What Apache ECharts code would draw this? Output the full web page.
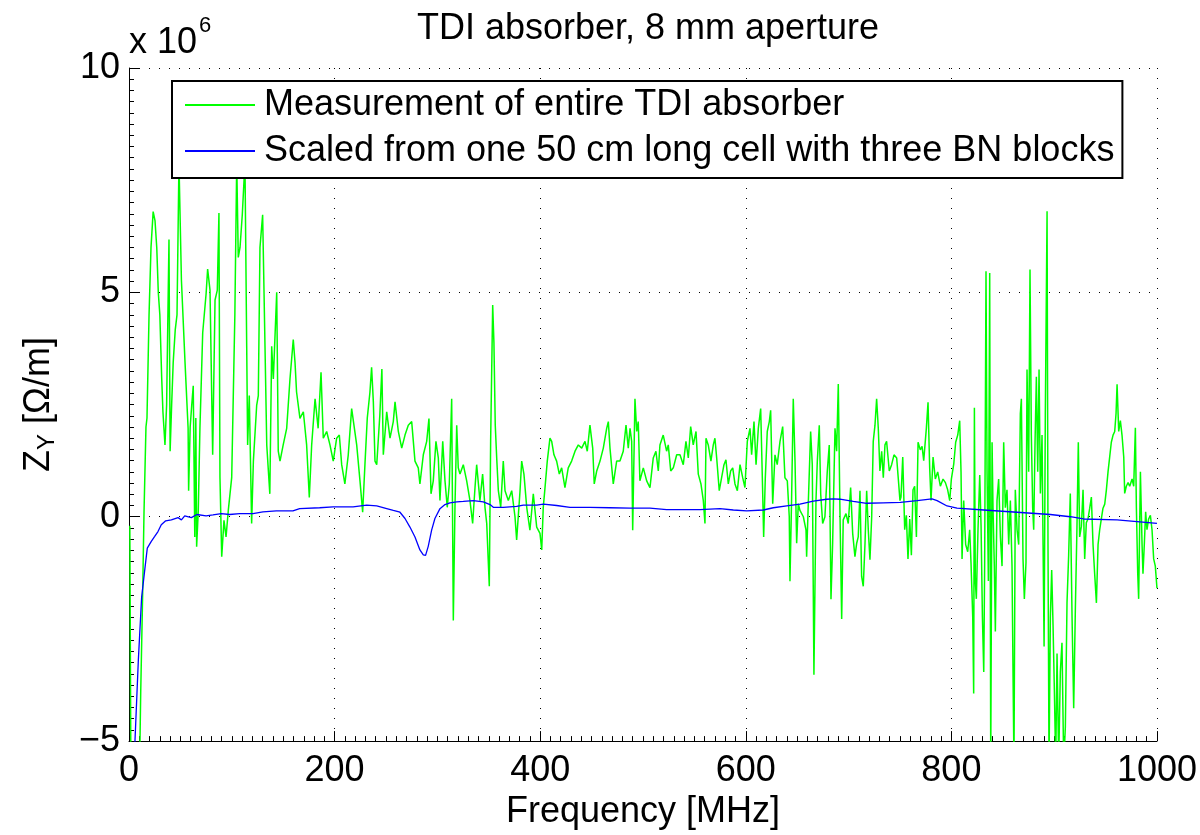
<!DOCTYPE html>
<html>
<head>
<meta charset="utf-8">
<title>TDI absorber, 8 mm aperture</title>
<script src="https://cdn.jsdelivr.net/npm/echarts@6/dist/echarts.min.js"></script>
<style>
  html, body { margin: 0; padding: 0; background: #fff; }
  #chart { width: 1200px; height: 835px; }
</style>
</head>
<body>
<div id="chart"></div>
<script>
// values, Z in units of 1e6 Ohm/m, frequency in MHz
const measFreq = [
  0.8, 1.8, 5, 9, 10.5, 11.4, 13.3, 14.6, 16.5, 17.5, 19.5, 21.4, 23.5, 25.3, 27, 28.5, 30, 31.8, 33, 35,
  36.6, 38.9, 40, 41.5, 43, 45, 46.7, 48.6, 51, 54.5, 57.5, 58, 59.5, 61, 62.5, 64, 65, 65.8, 67.4, 69,
  71.7, 75, 76.5, 78.8, 81.4, 83.7, 85.9, 87.5, 88.5, 90.2, 92.4, 94.4, 96.6, 99.9, 103, 104.8, 106.3, 108, 110.2, 112.8,
  114.5, 115.4, 117, 119.3, 121, 124.2, 125.8, 127.4, 130, 132.3, 134, 137, 138.8, 140.4, 143.7, 145.2, 146.9, 150, 153.4, 156.6,
  159.8, 161.5, 163, 166.3, 169.6, 172.8, 175.4, 177.7, 181, 184, 186.8, 189, 192.3, 195.5, 198.7, 202, 204.6, 206.9, 210, 213.3,
  216.6, 218, 221.5, 224.7, 227.3, 229.6, 231.8, 234.4, 236, 237.7, 239.3, 241, 244, 246, 247.4, 250.7, 253.9, 257.1, 258.8, 262,
  265.3, 268.5, 271.7, 275, 278.2, 281.4, 283, 286.3, 289.6, 291.8, 293.8, 296, 298.6, 300.9, 302.5, 305.2, 307.4, 309.6, 311.6, 313.9,
  315.5, 317.1, 318.8, 320.3, 322, 325.2, 328.5, 331.7, 334.3, 336.6, 338.2, 341.4, 344, 346.3, 348, 350.5, 351.8, 353.8, 355, 356.3,
  357.7, 359.3, 361.6, 364.1, 365.8, 369, 372.3, 375.5, 377.1, 380.4, 382, 384.2, 386.9, 390, 393.3, 396.6, 399.8, 401.5, 403, 404.7,
  406.9, 409.5, 411.2, 413.4, 416, 418.6, 420.9, 424.1, 427.3, 430.6, 433.9, 437.1, 440.4, 443.6, 445.8, 448.4, 451.1, 452.6, 455, 458.2,
  461.4, 464.7, 466.3, 467.9, 471.1, 474.4, 477.6, 480.8, 483.5, 485.7, 487.4, 489, 490, 492.2, 493.9, 495.4, 497, 500.3, 503.6, 506.8,
  510, 512.6, 514.9, 516.5, 519.7, 523, 524.6, 527, 529.5, 532.8, 536, 539.2, 541.8, 544.1, 546.4, 548.9, 551.6, 553.8, 556.4, 558.7,
  560.3, 561.3, 563.5, 566.1, 568.4, 570, 571.7, 574.2, 576.5, 578.8, 580.7, 583, 585.3, 587.3, 589.5, 591.8, 594.4, 597, 599.2, 601.5,
  604.1, 605.7, 608, 610, 612.2, 614.5, 616.4, 617.4, 619, 620.9, 622.9, 624.2, 626.2, 628.4, 630.6, 633.3, 635.9, 638.1, 640.4, 642.3,
  643, 644.6, 646.2, 647.9, 649.5, 651.1, 652.7, 656, 658.6, 659.2, 660.8, 663.1, 664.7, 666.3, 668.3, 669.6, 671.5, 672.9, 674.8, 677,
  679.3, 681.2, 682.9, 684.5, 686.8, 688.4, 690, 691.6, 693.3, 694.8, 697.5, 699.7, 702, 704, 706.2, 707.9, 709.4, 711.1, 712.7, 714.3,
  716, 717.6, 719.2, 720.8, 722.5, 724, 725.7, 727.3, 728.9, 730.5, 732.2, 733.8, 735.4, 737, 739.6, 741.9, 744.2, 746.8, 748.3, 750,
  751, 752.7, 754.6, 756.2, 757.8, 759.5, 761.1, 762.7, 764.3, 766, 767.6, 769.8, 771.5, 773.1, 775.7, 777.3, 778.9, 780.2, 782.2, 784.4,
  786.7, 789.3, 791.9, 794.2, 796.4, 798.4, 800, 802.3, 804.2, 806.2, 808.1, 809.4, 810.4, 812, 813.9, 815.9, 817.8, 819.1, 820.8, 821.7,
  822.4, 823.3, 824.3, 825.9, 827.6, 828.9, 830.2, 831.5, 832.4, 833.7, 834.7, 836, 837.3, 838.3, 839.6, 840.5, 841.8, 842.8, 844.4, 846,
  847.7, 849.3, 850.9, 852.5, 854.1, 855.8, 857.4, 859, 860, 860.9, 862.2, 863.9, 865.5, 867.1, 868.1, 869.7, 871, 872.6, 873.6, 875.2,
  876.5, 877.8, 879.1, 880.1, 881.4, 882.7, 884, 885.3, 886.6, 888.2, 889.2, 890.2, 891.4, 893.1, 894, 895, 896.3, 897.6, 898.9, 900.2,
  901.5, 902.8, 904.4, 906, 907.6, 909.3, 910.9, 912.5, 914.1, 915.7, 917.4, 919, 920.6, 922.2, 923.5, 924.8, 926.5, 928.1, 929.7, 931.3,
  932.9, 934.6, 936.2, 937.8, 939.4, 941.1, 942.7, 944.3, 945.9, 947.5, 949.2, 950.8, 952.4, 954, 955.6, 957.3, 958.9, 960.2, 961.2, 962.8,
  964.4, 966, 967.7, 968.6, 970.2, 971.9, 973.5, 975.8, 977.4, 979, 980, 981.3, 982.2, 983.9, 985.5, 986.4, 987.7, 989, 990.3, 991.9,
  993.6, 995.2, 996.8, 998.4, 1000
];
const measZ = [
  -0.2, -5.5, -8, -7, -5.3, -3.9, -1.7, 0.1, 2.0, 2.2, 4.5, 6.0, 6.8, 6.6, 6.0, 5.0, 4.5, 3.1, 2.34, 1.6,
  2.5, 6.18, 1.46, 2.5, 3.44, 4.17, 4.5, 7.9, 5.27, 3.44, 1.97, 0.58, 2.0, 2.48, 2.92, -0.45, 2.2, -0.67, 0.14, 1.97,
  4.1, 4.97, 5.52, 5.05, 1.38, 4.83, 5.05, 6.77, 0.87, -0.89, -0.08, -0.45, 0.14, 0.87, 4.53, 7.9, 5.78, 6.0, 6.73, 7.9,
  3.8, 1.6, 2.7, -0.15, 1.24, 2.48, 2.7, 6.0, 6.73, 3.8, 1.6, 0.51, 3.8, 3.07, 5.0, 1.46, 1.24, 1.6, 1.97, 3.07,
  3.95, 3.44, 2.78, 2.19, 2.34, 1.6, 0.43, 1.6, 2.63, 1.97, 3.22, 1.75, 1.9, 1.6, 1.24, 1.75, 1.82, 1.16, 0.73, 1.38,
  2.41, 2.41, 1.6, 0.8, 0.1, 1.2, 2.2, 2.78, 3.33, 2.56, 1.24, 1.16, 2.26, 3.29, 1.38, 2.34, 1.75, 2.12, 2.56, 1.9,
  1.53, 1.82, 2.04, 2.12, 1.24, 1.09, 0.73, 1.38, 1.68, 2.19, 0.51, 0.8, 1.68, 1.31, 0.36, 1.68, 0.8, 0.21, 0.73, 2.63,
  -2.31, 0.21, 2.04, 1.09, 0.95, 1.16, 0.8, 0.36, -0.15, 0.65, 1.16, 0.36, 0.95, 0.21, -0.15, -1.55, 1.68, 4.72, 3.88, 2.04,
  1.31, 0.58, 0.21, 1.24, 0.58, 0.36, 0.58, 0, -0.52, 0.58, 1.24, 0.95, 0.21, -0.3, 0.51, -0.23, -0.37, -0.74, 0.21, 0.65,
  1.24, 1.75, 1.68, 1.38, 1.24, 0.95, 1.09, 0.65, 1.09, 1.24, 1.46, 1.6, 1.53, 1.68, 1.46, 2.04, 1.53, 0.73, 1.02, 1.24,
  1.53, 1.97, 2.12, 1.53, 0.73, 1.24, 1.24, 1.46, 2.04, 1.53, 1.97, 1.68, -0.3, 2.63, 1.9, 2.12, 0.8, 1.09, 0.8, 0.65,
  1.31, 1.46, 1.02, 1.6, 1.82, 1.46, 1.6, 1.02, 1.09, 1.38, 1.38, 1.16, 1.68, 1.31, 2.01, 1.6, 1.9, 0.95, 0.73, 0.36,
  -0.15, 1.75, 1.6, 1.24, 1.6, 1.75, 1.31, 0.58, 0.87, 1.16, 1.27, 0.73, 1.02, 1.09, 0.73, 0.58, 1.16, 0.87, 0.65, 1.68,
  1.97, 1.38, 2.12, 1.16, 1.97, 2.41, 0.58, -0.45, 0.87, 1.9, 2.12, 2.37, 0.29, 1.38, 1.16, 1.68, 2.01, 0.87, 0.8, 0,
  -1.44, 0.43, 2.63, 1.24, -0.59, 0.29, 0.14, 0, -0.3, -0.89, 0.29, 1.9, 1.16, -3.52, 0.36, 1.24, 2.04, 0.5, -0.15, 0,
  1.02, 1.6, -1.84, -0.59, 1.97, 1.46, 2.96, 0.14, -2.28, -0.07, 0.07, -0.15, 0.65, -0.37, -0.89, -0.59, -0.45, 0.58, -1.33, -1.55,
  -0.59, 0.58, -0.3, -0.96, 0, 1.68, 2.04, 2.63, 1.97, 1.02, 1.46, 0.87, 1.6, 1.68, 1.02, 1.16, 1.38, 1.31, 0.87, 0.36,
  0.44, 1.33, -0.29, 0.03, -0.94, -0.05, -0.86, 0.6, 0.68, -0.45, 1.66, 1.49, 1.57, 1.25, 1.98, 2.55, 1.09, 0.36, 1.33, 0.84,
  1.0, 0.68, 0.84, 0.76, 0.6, 0.36, 0.84, 1.17, 1.66, 1.82, 2.14, 1.0, -0.94, 0.36, -0.62, -0.78, -0.29, -1.02, -2.24, -3.94,
  2.43, -1.43, -1.83, -0.29, 0.93, -0.21, -2.24, -3.46, -1.02, 5.47, 1.0, -1.43, 5.43, -5.5, 1.66, 0.2, -1.1, -2.56, 0.36, 0.84,
  -0.45, -1.1, 1.66, 0.2, 0.6, -0.62, 0.36, -1.1, -3.54, -5.5, 0.6, -0.29, -0.62, 2.3, 2.63, -0.94, -1.83, -1.02, 3.28, 1.0,
  5.51, 1.82, 0.2, -0.29, 1.66, 3.12, 1.0, 3.28, 0.52, 1.82, -0.62, -2.89, 2.3, 6.81, -0.62, -5.5, -2.24, -1.19, -2.4, -3.86,
  -5.5, -3.05, -5.5, -3.46, -2.81, -5.5, -4.68, -1.92, -0.86, 0.52, -2.24, -4.27, -2.08, -0.21, 1.66, -0.45, -0.21, 0.6, -0.94, -0.13,
  -0.05, 0.19, 0.44, -0.62, -1.27, -1.92, -0.62, -0.29, -0.05, 0.19, 0.28, 0.6, 1.0, 1.33, 1.66, 1.82, 1.9, 2.3, 2.95, 1.9,
  2.14, 1.82, 1.33, 0.52, 0.68, 0.76, 0.68, 0.84, 0.68, 1.98, 0.19, -1.27, -1.83, 1.0, -0.62, -1.27, -0.62, 0.11, -0.29, -0.05,
  0.03, -0.29, -0.94, -1.1, -1.59
];

const cellFreq = [
  4, 5.8, 9.1, 12.3, 15.6, 17.8, 21.7, 25, 28.2, 31.4, 35.7, 41.2, 47.7, 51, 54.2, 60.7, 66, 75, 81.7, 89.8,
  97.9, 107.6, 120.6, 130.3, 143.3, 159.5, 166, 185.5, 198.5, 218, 231.2, 241, 250.7, 257.1, 263.6, 268.5, 273.3, 278.2, 283, 286.3,
  288.5, 291.1, 294.4, 297.6, 302.5, 307.4, 312.2, 318.8, 325.2, 335, 344.7, 351.2, 354.4, 364.1, 377.1, 383.6, 396.6, 403.1, 416, 429,
  448.4, 467.9, 487.4, 506.8, 523, 555.5, 574.9, 587.9, 600.9, 617.1, 626.8, 639.8, 652.7, 665.7, 678.7, 685.2, 691.6, 704.6, 717.6, 733.8,
  750.4, 766.6, 781.2, 786.1, 795.8, 805.5, 831.5, 863.9, 896.3, 915.7, 928.6, 961.2, 980.6, 1000
];
const cellZ = [
  -7, -5.0, -3.19, -1.79, -1.13, -0.7, -0.55, -0.44, -0.33, -0.18, -0.09, -0.07, -0.02, -0.07, 0.02, -0.02, 0.05, 0.02, 0.04, 0.07,
  0.05, 0.07, 0.07, 0.11, 0.13, 0.13, 0.18, 0.2, 0.22, 0.22, 0.26, 0.24, 0.18, 0.14, 0.1, -0.04, -0.23, -0.45, -0.74, -0.85,
  -0.86, -0.66, -0.3, -0.04, 0.18, 0.27, 0.31, 0.33, 0.34, 0.36, 0.33, 0.27, 0.21, 0.21, 0.23, 0.26, 0.26, 0.28, 0.25, 0.21,
  0.21, 0.2, 0.19, 0.19, 0.16, 0.16, 0.18, 0.15, 0.13, 0.15, 0.2, 0.24, 0.28, 0.35, 0.39, 0.4, 0.39, 0.34, 0.3, 0.31,
  0.32, 0.36, 0.4, 0.36, 0.24, 0.19, 0.15, 0.1, 0.05, 0, -0.05, -0.07, -0.11, -0.15
];

const seriesNames = [
  'Measurement of entire TDI absorber',
  'Scaled from one 50 cm long cell with three BN blocks'
];
const xTicks = [0, 200, 400, 600, 800, 1000];
const yTicks = [-5, 0, 5, 10];

const FONT = '"Liberation Sans", Arial, Helvetica, sans-serif';

function pairs(xs, ys) {
  return xs.map((x, i) => [x, ys[i]]);
}

const chart = echarts.init(document.getElementById('chart'));

// dotted grid like matlab "grid on"
const gridLine = { show: true, lineStyle: { color: '#000', width: 1, type: [1, 9] } };

chart.setOption({
  animation: false,
  backgroundColor: '#fff',
  textStyle: { fontFamily: FONT },
  title: {
    text: 'TDI absorber, 8 mm aperture',
    left: 643,
    textAlign: 'center',
    top: 6,
    textStyle: { fontFamily: FONT, fontSize: 36, fontWeight: 'normal', color: '#000' }
  },
  grid: { left: 129, right: 43, top: 68, bottom: 85 },
  legend: {
    orient: 'vertical',
    left: 172,
    top: 81,
    padding: [1, 8, 4, 13],
    itemGap: 0,
    itemWidth: 70,
    itemHeight: 2,
    icon: 'rect',
    backgroundColor: '#fff',
    borderColor: '#000',
    borderWidth: 2,
    textStyle: { fontFamily: FONT, fontSize: 36, color: '#000', lineHeight: 46, padding: [0, 0, 0, 4] },
    data: seriesNames
  },
  xAxis: {
    type: 'value',
    min: xTicks[0],
    max: xTicks[xTicks.length - 1],
    interval: 200,
    name: 'Frequency [MHz]',
    nameLocation: 'middle',
    nameGap: 50,
    nameTextStyle: { fontFamily: FONT, fontSize: 36, color: '#000' },
    axisLine: { show: true, onZero: false, lineStyle: { color: '#000', width: 1 } },
    axisTick: { show: true, inside: true, length: 10, lineStyle: { color: '#000' } },
    minorTick: { show: true, splitNumber: 20, length: 5, lineStyle: { color: '#000' } },
    splitLine: gridLine,
    axisLabel: {
      fontFamily: FONT, fontSize: 36, color: '#000', margin: 12,
      formatter: v => String(v)
    }
  },
  yAxis: {
    type: 'value',
    min: yTicks[0],
    max: yTicks[yTicks.length - 1],
    interval: 5,
    name: 'Z{s|Y} [Ω/m]',
    nameLocation: 'middle',
    nameGap: 70,
    nameRotate: 90,
    nameTextStyle: {
      fontFamily: FONT, fontSize: 36, color: '#000',
      rich: { s: { fontFamily: FONT, fontSize: 24, color: '#000', padding: [16, 0, 0, 0] } }
    },
    axisLine: { show: true, onZero: false, lineStyle: { color: '#000', width: 1 } },
    axisTick: { show: true, inside: true, length: 10, lineStyle: { color: '#000' } },
    minorTick: { show: true, splitNumber: 20, length: 5, lineStyle: { color: '#000' } },
    splitLine: gridLine,
    axisLabel: {
      fontFamily: FONT, fontSize: 36, color: '#000', margin: 9,
      formatter: v => String(v).replace('-', '\u2212')
    }
  },
  graphic: [
    { type: 'text', x: 129, y: 43, style: { text: 'x 10', fontFamily: FONT, fontSize: 36, fill: '#000', verticalAlign: 'middle' } },
    { type: 'text', x: 199, y: 26, style: { text: '6', fontFamily: FONT, fontSize: 22, fill: '#000', verticalAlign: 'middle' } }
  ],
  series: [
    {
      name: seriesNames[0],
      type: 'line',
      data: pairs(measFreq, measZ),
      showSymbol: false,
      symbol: 'none',
      lineStyle: { color: '#00ff00', width: 1.5 },
      itemStyle: { color: '#00ff00' }
    },
    {
      name: seriesNames[1],
      type: 'line',
      data: pairs(cellFreq, cellZ),
      showSymbol: false,
      symbol: 'none',
      lineStyle: { color: '#0000ff', width: 1.3 },
      itemStyle: { color: '#0000ff' }
    }
  ]
});
</script>
</body>
</html>
